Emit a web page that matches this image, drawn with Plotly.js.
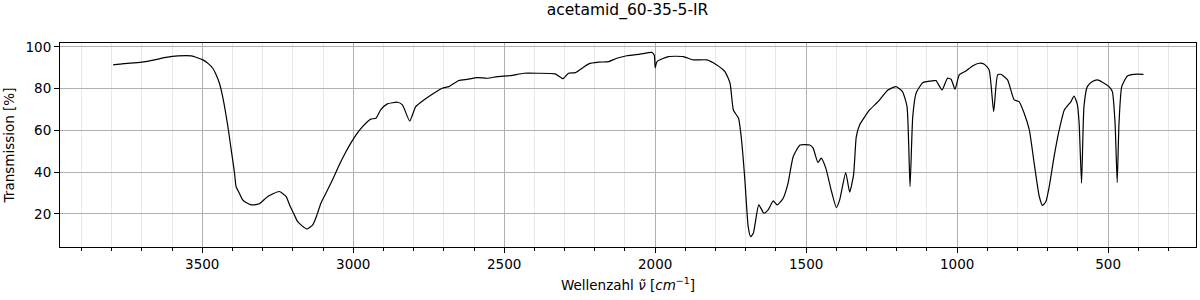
<!DOCTYPE html>
<html>
<head>
<meta charset="utf-8">
<script src="https://cdn.plot.ly/plotly-3.0.1.min.js"></script>
<style>html,body{margin:0;padding:0;background:#fff;}#chart{width:1200px;height:300px;}</style>
</head>
<body>
<div id="chart"></div>
<script>
const wavenumber = [
  3795, 3760, 3701, 3646, 3620, 3580, 3536, 3498, 3480, 3465, 3455, 3443, 3435, 3426, 3415,
  3404, 3393, 3388, 3377, 3366, 3355, 3340, 3330,
  3311, 3283, 3245, 3222, 3210, 3195, 3185, 3173, 3153, 3134, 3120, 3107, 3090, 3074, 3060,
  3046, 3025, 3008, 2990, 2969, 2942, 2925,
  2909, 2887, 2853, 2837, 2813, 2793, 2766, 2733, 2705, 2683, 2650, 2622, 2589, 2556, 2523,
  2479, 2435, 2391, 2331, 2305, 2287, 2264, 2220, 2187, 2154, 2127, 2094, 2050, 2011, 2003,
  2000, 1994, 1956, 1907, 1874, 1829, 1796, 1769, 1752, 1741, 1724, 1714, 1703, 1692, 1684,
  1675, 1657, 1640, 1626, 1609, 1596, 1576, 1560, 1543, 1520, 1488, 1477, 1461, 1450, 1435,
  1416, 1400, 1389, 1369, 1356, 1343, 1334, 1323, 1290, 1262, 1229, 1202, 1181, 1166, 1156,
  1147, 1136, 1114, 1075, 1070, 1050, 1032, 1020, 1007, 993, 971, 949, 927, 910, 894,
  879, 866, 855, 833, 811, 795, 778, 761, 745, 728, 717, 706, 695, 679, 662,
  645, 623, 613, 602, 596, 588, 580, 569, 552, 536, 519, 497, 486, 477, 470,
  464, 455, 436, 414, 383
];
const transmission = [
  91.4, 92.0, 92.7, 94.2, 95.0, 95.7, 95.7, 93.8, 92.0, 89.8, 87.0, 82.6, 78.0, 71.4, 61.8,
  50.7, 39.5, 33.1, 29.9, 26.7, 25.4, 24.4, 24.3,
  24.8, 28.3, 30.7, 28.3, 24.0, 19.5, 16.5, 14.7, 12.7, 14.7, 19.5, 25.1, 30.0, 34.7, 39.0,
  43.5, 49.5, 53.9, 58.0, 61.8, 65.4, 65.8,
  69.8, 72.7, 73.5, 72.2, 64.5, 71.4, 74.6, 77.8, 80.2, 81.0, 83.9, 84.5, 85.3, 85.0, 85.8,
  86.3, 87.4, 87.4, 87.1, 84.8, 87.4, 87.7, 91.9, 92.7, 93.0, 94.6, 95.8, 96.6, 97.4, 96.0,
  90.0, 93.0, 95.4, 95.4, 93.8, 93.8, 91.4, 88.2, 82.6, 69.8, 65.8, 55.4, 36.3, 13.9, 9.1,
  10.7, 24.3, 20.3, 21.9, 26.2, 24.3, 27.5, 34.7, 47.4, 53.0, 53.0, 51.5, 44.6, 46.7, 41.9,
  30.7, 23.0, 26.7, 39.8, 30.4, 38.7, 57.0, 62.6, 69.8, 73.8, 79.4, 81.0, 78.6, 71.4, 33.1,
  66.6, 77.8, 82.9, 83.9, 83.9, 79.4, 85.0, 84.5, 79.7, 86.6, 88.5, 90.9, 92.2, 91.7, 89.0,
  69.0, 86.6, 86.9, 84.2, 74.6, 73.8, 68.2, 60.2, 44.3, 28.3, 24.0, 25.9, 33.1, 47.4, 60.2,
  69.8, 73.8, 76.5, 72.5, 63.4, 34.7, 71.4, 81.0, 83.4, 84.2, 83.1, 81.0, 78.6, 63.4, 35.0,
  63.4, 81.0, 86.1, 86.9, 86.9
];
const titleText = "acetamid_60-35-5-IR";
const xTitle = "Wellenzahl <i>ν̃</i> [<i>cm</i><sup>−1</sup>]";
const yTitle = "Transmission [%]";
const yTicks = [20, 40, 60, 80, 100];

const font = "DejaVu Sans, sans-serif";
const trace = {
  x: wavenumber, y: transmission, type: "scatter", mode: "lines",
  line: {color: "#000000", width: 1.2, shape: "spline", smoothing: 0.5}, hoverinfo: "skip"
};
const layout = {
  width: 1200, height: 300,
  margin: {l: 60, r: 4, t: 43, b: 53},
  paper_bgcolor: "#ffffff", plot_bgcolor: "#ffffff",
  font: {family: font, size: 13.5, color: "#000000"},
  title: {text: titleText, font: {family: font, size: 15.5, color: "#000"}, x: 0.523, xanchor: "center", y: 0.985, yanchor: "top"},
  showlegend: false,
  xaxis: {
    range: [3971, 209], autorange: false,
    tick0: 0, dtick: 500,
    showline: true, mirror: true, linecolor: "#000", linewidth: 1,
    ticks: "outside", ticklen: 5, tickwidth: 1, tickcolor: "#000",
    showgrid: true, gridcolor: "#b0b0b0", gridwidth: 1,
    zeroline: false,
    tickfont: {family: font, size: 13.5},
    minor: {dtick: 100, tick0: 0, ticks: "outside", ticklen: 3, tickwidth: 1, tickcolor: "#000", showgrid: true, gridcolor: "#e8e8e8", gridwidth: 1},
    title: {text: xTitle, font: {family: font, size: 13.5}, standoff: 9}
  },
  yaxis: {
    range: [4.1, 101.9], autorange: false,
    tickvals: yTicks,
    showline: true, mirror: true, linecolor: "#000", linewidth: 1,
    ticks: "outside", ticklen: 5, tickwidth: 1, tickcolor: "#000",
    showgrid: true, gridcolor: "#b0b0b0", gridwidth: 1,
    zeroline: false,
    tickfont: {family: font, size: 13.5},
    title: {text: yTitle, font: {family: font, size: 13.5}, standoff: 7}
  }
};
Plotly.newPlot("chart", [trace], layout, {staticPlot: true, displayModeBar: false});
</script>
</body>
</html>
